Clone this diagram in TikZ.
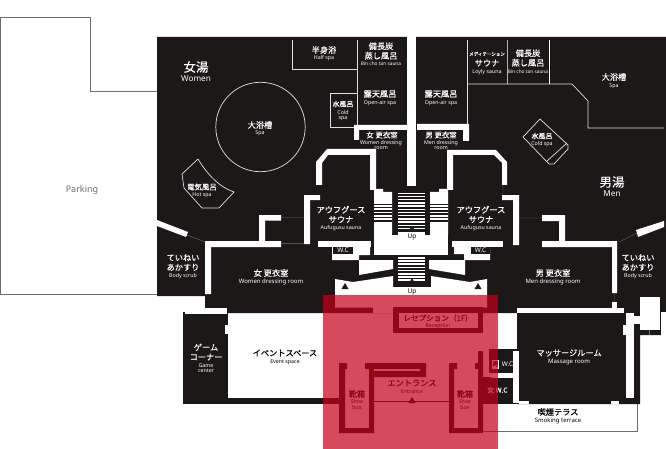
\documentclass[tikz,border=0pt]{standalone}
\usepackage{fontspec}
\setmainfont{Noto Sans CJK JP}
\newfontfamily\jpf[FakeBold=0.25]{Noto Sans CJK JP}
\newfontfamily\latinf{Noto Sans}
\definecolor{floor}{HTML}{1C1817}
\definecolor{frame}{HTML}{6E6E6E}
\definecolor{redveil}{HTML}{C5001C}
\tikzset{
  floorfill/.style={fill=floor,draw=none},
  wall/.style={fill=white,draw=none},
  hair/.style={draw=white!88!black,line width=0.7pt},
  dim/.style={draw=frame,line width=0.4pt},
  jp/.style={text=white,font=\jpf\fontsize{8.2}{9.6}\selectfont,align=center,inner sep=0pt},
  en/.style={text=white,font=\latinf\fontsize{5.3}{5.2}\selectfont,align=center,inner sep=0pt},
  jpb/.style={jp,text=black},
  enb/.style={en,text=black}
}
\begin{document}
\begin{tikzpicture}[x=1pt,y=-1pt]
\useasboundingbox[fill=white] (0,0) rectangle (666,449);
% parking
\draw[frame,line width=0.7pt] (157,91) -- (90,91) -- (90,17) -- (0.4,17) -- (0.4,294) -- (157,294);
\node[text=frame,font=\latinf\fontsize{9}{10}\selectfont,inner sep=0pt] (parking) at (82,190) {Parking};
% terrace
\draw[frame,line width=0.7pt] (483,431) -- (637.7,431) -- (637.7,403);
% floor plate
\fill[floorfill] (157,37) -- (666,37) -- (666,312) -- (661,312) -- (661,335) -- (640,335) -- (640,404) -- (517,404) -- (517,313) -- (205,313) -- (205,296) -- (157,296) -- cycle;
\fill[floorfill] (183,312) rectangle (228,403.5);
\fill[floorfill] (183,398) rectangle (339,403.5);
\fill[floorfill] (489,349) rectangle (517,373);
\fill[floorfill] (491,377) rectangle (517,403.5);
\fill[floorfill] (483,377) rectangle (491,403.5);
% paper-white cuts into the plate
\fill[wall] (407,30) rectangle (416,186);
\fill[wall] (335,279) -- (353,282) -- (393,276) -- (393,287) -- (431,287) -- (431,276) -- (470,282) -- (487,279) -- (487,307.5) -- (335,307.5) -- cycle;
\fill[wall] (373,307) rectangle (393,313);
\fill[wall] (185,308) rectangle (227,314);
\fill[wall] (225,325) rectangle (229,334);
\fill[wall] (640,297) rectangle (660,330);
\fill[wall] (661,312) rectangle (666,340);
% women's thin lines
\draw[hair] (292,40) -- (292,69) -- (357,69);
\draw[hair] (357,40) -- (357,127) -- (330,127) -- (330,93) -- (357,93);
\draw[hair] (260.5,127) circle[radius=44.7];
\draw[hair] (198,159) -- (182,174) -- (184,188) -- (202,208) -- (219,208) -- (234,192) .. controls (219,187) and (207,174) .. (198,159);
% men's thin lines
\draw[hair] (467,40) -- (467,125);
\draw[draw=white!70!black,line width=1pt] (507,40) -- (507,84);
\draw[draw=white,line width=0.8pt] (549,40) -- (549,84);
\draw[hair] (467,84) -- (572,84) -- (588,101) -- (588,128) -- (664,128);
\draw[hair] (540,119) -- (523,137) -- (549,164) -- (554,164) -- (568,149) -- (568,145) -- cycle (567,143) -- (547,161);
% upper walls
\fill[wall] (354,125) -- (407,125) -- (407,130) -- (359,130) -- (359,140) -- (354,140) -- cycle;
\fill[wall] (417,124) -- (469,124) -- (469,141) -- (463,141) -- (463,130) -- (417,130) -- cycle;
\fill[wall] (316,185) -- (316,162) -- (327,149) -- (376,149) -- (376,190) -- (370,190) -- (370,155) -- (328,155) -- (322,163) -- (322,185) -- cycle;
\fill[wall] (507,185) -- (507,162) -- (496,150) -- (447,150) -- (447,190) -- (453,190) -- (453,155) -- (494,155) -- (502,163) -- (502,185) -- cycle;
% sauna walls
\fill[wall] (304,195) -- (320,195) -- (320,200) -- (310,200) -- (310,244) -- (304,244) -- cycle;
\fill[wall] (502,195) -- (519,195) -- (519,245) -- (513,245) -- (513,200) -- (502,200) -- cycle;
\fill[wall] (259,215) -- (281,215) -- (281,220.5) -- (265,220.5) -- (265,241) -- (281,241) -- (281,247) -- (211,247) -- (211,294) -- (205,294) -- (205,241) -- (259,241) -- cycle;
\fill[wall] (542,215) -- (565,215) -- (565,241) -- (617,241) -- (617,293) -- (612,293) -- (612,247) -- (542,247) -- (542,241) -- (559,241) -- (559,221) -- (542,221) -- cycle;
\fill[wall] (157,220) -- (188,232) -- (186,237) -- (157,226) -- cycle;
\fill[wall] (636,230) -- (664,221) -- (664,227) -- (638,237) -- cycle;
\draw[dim] (187,235) -- (205,242) (637,233) -- (619,242) (281,217.7) -- (304,217.7) (281,243.3) -- (304,243.3) (519,218) -- (542,218) (614.5,293) -- (614.5,302) (503,185) -- (503,195);
% stairs, upper
\fill[wall] (374,189) -- (383,189) -- (383,192) -- (392,192) -- (392,235) -- (374,235) -- cycle;
\fill[wall] (430,192) -- (439,192) -- (439,189) -- (448,189) -- (448,235) -- (430,235) -- cycle;
\fill[wall] (374,235) rectangle (448,255);
\fill[wall] (398,231) rectangle (425,235);
\foreach \y in {203.5,206.8,...,223}{
  \fill[floor] (374,\y) rectangle (392,\y+1.5);
  \fill[floor] (430,\y) rectangle (448,\y+1.5);
}
\foreach \y in {192.5,195.7,...,229}{\fill[white] (398,\y) rectangle (425,\y+1.5);}
\fill[floor] (408.5,231) -- (412,226) -- (415.5,231) -- cycle;
\fill[floor] (392,233) rectangle (398,235);
\fill[floor] (425,233) rectangle (430,235);
\fill[floor] (398,230.5) rectangle (425,232);
% W.C blocks
\fill[wall] (318,241) rectangle (371,247);
\fill[wall] (332,247) -- (370,247) -- (370,255) -- (359,255) -- (359,260) -- (332,260) -- cycle;
\fill[wall] (452,241) rectangle (503,247);
\fill[wall] (454,247) -- (490,247) -- (490,260) -- (464,260) -- (464,254) -- (454,254) -- cycle;
\fill[floorfill] (333,247) rectangle (353,254);
\fill[floorfill] (471,247) rectangle (490,254);
\fill[floorfill] (371,240) rectangle (374,256);
% stairs, lower
\fill[wall] (359,260) -- (393,260) -- (393,269) -- (359,275) -- cycle;
\fill[wall] (429,260) -- (465,260) -- (465,275) -- (429,269) -- cycle;
\foreach \y in {257,260.2,...,280}{\fill[white] (398,\y) rectangle (425,\y+1.5);}
\fill[floor] (408.5,284) -- (412,278) -- (415.5,284) -- cycle;
% triangles in the lobby
\fill[floor] (345,283) -- (341.5,289) -- (348.5,289) -- cycle;
\fill[floor] (478,283) -- (474.5,289) -- (481.5,289) -- cycle;
% massage room walls
\fill[wall] (517,308) rectangle (624,313);
\fill[wall] (612,302) rectangle (617,308);
\fill[wall] (626,313) rectangle (634,398);
\fill[wall] (634,316) rectangle (640,324);
\fill[wall] (623,325) rectangle (626,335);
\fill[wall] (513,351) rectangle (519,403);
\fill[wall] (519,401) rectangle (529,404);
\fill[wall] (611,401) rectangle (619,404);
\fill[wall] (491,373) rectangle (513,378);
\fill[wall] (492,360) rectangle (499,369);
\draw[dim] (649,330) -- (649,335);
% reception
\fill[floorfill] (393,307) rectangle (483,333);
\fill[wall] (399,313) rectangle (478,328);
% entrance
\fill[floorfill] (339,363) -- (347,363) -- (347,369) -- (345,369) -- (345,428) -- (369,428) -- (369,369) -- (365,369) -- (365,363) -- (426,363) -- (426,377) -- (374,377) -- (374,433) -- (339,433) -- cycle;
\fill[wall] (374,369) rectangle (420,371);
\fill[floorfill] (449,363) -- (457,363) -- (457,369) -- (454,369) -- (454,428) -- (478,428) -- (478,369) -- (475,369) -- (475,363) -- (478,363) -- (478,351) -- (483,351) -- (483,433) -- (449,433) -- cycle;
\draw[floor,line width=0.7pt] (374,401) -- (449,401);
\fill[floor] (408.5,403) -- (412,397) -- (415.5,403) -- cycle;
% labels: women's side
\node[jp,font=\jpf\fontsize{12.5}{13}\selectfont] (women) at (196,67) {女湯};
\node[en,font=\latinf\fontsize{8.2}{9}\selectfont] (womenE) at (196,79) {Women};
\node[jp] (half) at (324,50) {半身浴};
\node[en] (halfE) at (324,58) {Half spa};
\node[jp] (bin1) at (381,51) {備長炭\\蒸し風呂};
\node[en,font=\latinf\fontsize{4.8}{5}\selectfont] (bin1E) at (381,64) {Bin cho tan sauna};
\node[jp] (open1) at (380,94) {露天風呂};
\node[en] (open1E) at (380,103) {Open-air spa};
\node[jp,font=\jpf\fontsize{7}{8}\selectfont] (cold1) at (343,104) {水風呂};
\node[en] (cold1E) at (343,115.5) {Cold\\spa};
\node[jp] (spa1) at (260,125) {大浴槽};
\node[en] (spa1E) at (260,133) {Spa};
\node[jp,font=\jpf\fontsize{7.4}{8}\selectfont] (hot) at (202,187) {電気風呂};
\node[en] (hotE) at (202,195) {Hot spa};
\node[jp,font=\jpf\fontsize{7.4}{8}\selectfont] (wd1) at (382,135) {女 更衣室};
\node[en] (wd1E) at (381,145.3) {Women dressing\\room};
% labels: men's side
\node[jp,font=\jpf\fontsize{4.5}{5}\selectfont] (med) at (487,54) {メディテーション};
\node[jp] (med2) at (487,63) {サウナ};
\node[en] (medE) at (487,72) {Loyly sauna};
\node[jp] (bin2) at (528,58) {備長炭\\蒸し風呂};
\node[en,font=\latinf\fontsize{4.8}{5}\selectfont] (bin2E) at (528,72) {Bin cho tan sauna};
\node[jp] (open2) at (441,94) {露天風呂};
\node[en] (open2E) at (441,103) {Open-air spa};
\node[jp] (spa2) at (614,77) {大浴槽};
\node[en] (spa2E) at (614,86) {Spa};
\node[jp,font=\jpf\fontsize{7}{8}\selectfont] (cold2) at (542,136) {水風呂};
\node[en] (cold2E) at (542,144) {Cold spa};
\node[jp,font=\jpf\fontsize{7.4}{8}\selectfont] (md1) at (441,135) {男 更衣室};
\node[en] (md1E) at (441,145.3) {Men dressing\\room};
\node[jp,font=\jpf\fontsize{12.5}{13}\selectfont] (men) at (612,182) {男湯};
\node[en,font=\latinf\fontsize{8.2}{9}\selectfont] (menE) at (612,194) {Men};
% labels: middle
\node[jp] (auf1) at (341,214.5) {アウフグース\\サウナ};
\node[en] (auf1E) at (341,228) {Aufugusu sauna};
\node[jp] (auf2) at (481,214.5) {アウフグース\\サウナ};
\node[en] (auf2E) at (481,228) {Aufugusu sauna};
\node[en,font=\latinf\fontsize{6.5}{7}\selectfont] (wcl) at (343,250.5) {W.C};
\node[en,font=\latinf\fontsize{6.5}{7}\selectfont] (wcr) at (480.5,250.5) {W.C};
\node[jpb,font=\latinf\fontsize{6.5}{7}\selectfont] (up1) at (412,237) {Up};
\node[jpb,font=\latinf\fontsize{6.5}{7}\selectfont] (up2) at (412,291.5) {Up};
\node[jp] (body1) at (183,262.5) {ていねい\\あかすり};
\node[en] (body1E) at (183,276) {Body scrub};
\node[jp] (body2) at (638,262.5) {ていねい\\あかすり};
\node[en] (body2E) at (638,276) {Body scrub};
\node[jp] (wr) at (271,273) {女 更衣室};
\node[en,font=\latinf\fontsize{6}{6}\selectfont] (wrE) at (271,282) {Women dressing room};
\node[jp] (mr) at (553,273) {男 更衣室};
\node[en,font=\latinf\fontsize{6}{6}\selectfont] (mrE) at (553,282) {Men dressing room};
% labels: ground floor
\node[jp] (game) at (206,352) {ゲーム\\コーナー};
\node[en] (gameE) at (206,368.5) {Game\\center};
\node[jpb] (event) at (285,353) {イベントスペース};
\node[enb] (eventE) at (285,362) {Event space};
\node[jpb,font=\jpf\fontsize{7.6}{8}\selectfont] (recep) at (438,318) {レセプション（1F）};
\node[enb] (recepE) at (438,326) {Reception};
\node[jpb] (ent) at (412,383) {エントランス};
\node[enb] (entE) at (412,392) {Entrance};
\node[jpb] (shoe1) at (357,394) {靴箱};
\node[enb] (shoe1E) at (357,404.5) {Shoe\\box};
\node[jpb] (shoe2) at (465,394) {靴箱};
\node[enb] (shoe2E) at (465,404.5) {Shoe\\box};
\node[jpb,font=\jpf\fontsize{6}{7}\selectfont] (mwc1) at (495.5,364) {男};
\node[en,font=\latinf\fontsize{6.5}{7}\selectfont] (mwc2) at (507.5,364) {W.C};
\node[en,font=\jpf\fontsize{6.8}{7}\selectfont] (fwc) at (497.5,390) {女 W.C};
\node[jp] (mass) at (569,353) {マッサージルーム};
\node[en,font=\latinf\fontsize{6}{6}\selectfont] (massE) at (569,362) {Massage room};
\node[jpb] (smoke) at (558,412) {喫煙テラス};
\node[enb,font=\latinf\fontsize{6}{6}\selectfont] (smokeE) at (558,421) {Smoking terrace};
% red veil over everything
\fill[redveil,fill opacity=0.71] (322.5,295) rectangle (498,449);
\end{tikzpicture}
\end{document}
